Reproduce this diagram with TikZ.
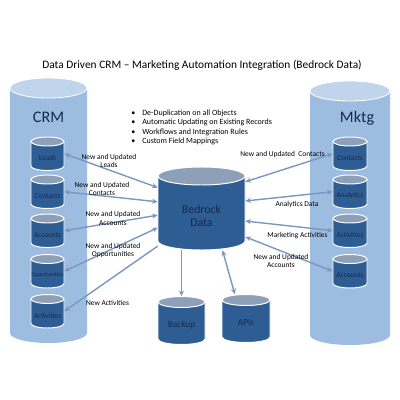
\documentclass[tikz,border=0pt]{standalone}
\usepackage{fontspec}
\setmainfont{Carlito}
\usepackage{tikz}
\usetikzlibrary{arrows.meta, calc, positioning}

\definecolor{crmblue}{RGB}{157,189,224}
\definecolor{crmcap}{RGB}{192,213,236}
\definecolor{dbblue}{RGB}{46,93,148}
\definecolor{dbcap}{RGB}{142,160,184}
\definecolor{dbtext}{RGB}{20,42,76}
\definecolor{linkblue}{RGB}{122,151,194}

% cylinder: name, x, cap y, bottom y, half width, cap radius, look, text y, text
\newcommand{\dbcyl}[9]{%
  \fill[#7body] (#2-#5,#3) -- (#2-#5,#4) arc[start angle=180,end angle=0,x radius=#5,y radius=#6] -- (#2+#5,#3) -- cycle;
  \draw[#7cap] (#2,#3) ellipse[x radius=#5,y radius=#6];
  \node[inner sep=0pt,minimum width=#5*0.05cm,minimum height=((#4)-(#3)+2*#6)*0.025cm] (#1) at (#2,{((#3)+(#4))/2}) {};
  \node[#7text] (#1-txt) at (#2,#8) {#9};
}

\tikzset{
  bigbody/.style={fill=crmblue},
  bigcap/.style={draw=white,line width=0.6pt,fill=crmcap},
  bigtext/.style={font=\fontsize{11.5}{13}\selectfont,text=dbtext},
  smallbody/.style={fill=dbblue,draw=white,line width=0.7pt},
  smallcap/.style={draw=white,line width=0.7pt,fill=dbcap},
  smalltext/.style={font=\fontsize{5.2}{6}\selectfont,text=dbtext},
  hubbody/.style={smallbody},
  hubcap/.style={smallcap},
  hubtext/.style={font=\fontsize{8.4}{9.6}\selectfont,text=dbtext,align=center},
  midbody/.style={smallbody},
  midcap/.style={smallcap},
  midtext/.style={font=\fontsize{6.6}{7.5}\selectfont,text=dbtext},
  lbl/.style={font=\fontsize{5.3}{5.8}\selectfont,align=center,inner sep=0pt},
  link/.style={draw=linkblue,line width=1pt,{Stealth[length=4pt,width=3.6pt]}-{Stealth[length=4pt,width=3.6pt]}},
  oneway/.style={link,-{Stealth[length=4pt,width=3.6pt]}}
}

\begin{document}
\begin{tikzpicture}[x=0.025cm,y=-0.025cm]
  \useasboundingbox (0,0) rectangle (400,400);

  % title and bullet list
  \node[font=\fontsize{8.1}{9}\selectfont] (title) at (202,65) {Data Driven CRM -- Marketing Automation Integration (Bedrock Data)};
  \node[font=\fontsize{5.7}{6.8}\selectfont,align=left,anchor=west,inner sep=0pt] (features) at (131,127.5)
    {\textbullet\hspace{5pt}De-Duplication on all Objects\\
     \textbullet\hspace{5pt}Automatic Updating on Existing Records\\
     \textbullet\hspace{5pt}Workflows and Integration Rules\\
     \textbullet\hspace{5pt}Custom Field Mappings};

  % the two big systems
  \dbcyl{crm}{48.5}{88}{333}{38.5}{10}{big}{117}{CRM}
  \dbcyl{mktg}{350}{91}{335}{40}{10}{big}{118}{\hspace{10pt}Mktg}

  % objects on each side
  \foreach \nm/\lbl/\y in {leads/Leads/141.5, contacts/Contacts/179.5, accounts/Accounts/218.5,
                           opps/{\fontsize{4}{5}\selectfont Opportunities}/259, activities/Activities/299}
    \dbcyl{\nm}{47.5}{\y}{\y+24.5}{16.5}{4.5}{small}{\y+16.5}{\lbl};
  \foreach \nm/\lbl/\y in {mcontacts/Contacts/141.5, analytics/Analytics/179.5,
                           mactivities/Activities/218.5, maccounts/Accounts/259}
    \dbcyl{\nm}{350}{\y}{\y+24.5}{17}{4.5}{small}{\y+16.5}{\lbl};

  % hub and its stores
  \dbcyl{bedrock}{201.5}{176}{241}{43.5}{9}{hub}{216}{Bedrock\\Data}
  \dbcyl{backup}{181.5}{302}{339}{23.5}{5.5}{mid}{325}{Backup}
  \dbcyl{apis}{246}{300}{337}{24}{5.5}{mid}{323}{APIs}

  % CRM side
  \draw[link] (leads.east) -- ($(bedrock.north west)!0.25!(bedrock.south west)$);
  \draw[link] (contacts.east) -- ($(bedrock.north west)!0.42!(bedrock.south west)$);
  \draw[link] (accounts.east) -- ($(bedrock.north west)!0.58!(bedrock.south west)$);
  \draw[link] (opps.east) -- ($(bedrock.north west)!0.73!(bedrock.south west)$);
  \draw[oneway] ($(bedrock.north west)!0.95!(bedrock.south west)$) -- (activities.east);

  % Mktg side
  \draw[link] ($(bedrock.north east)!0.18!(bedrock.south east)$) -- (mcontacts.west);
  \draw[link] ($(bedrock.north east)!0.41!(bedrock.south east)$) -- (analytics.west);
  \draw[link] ($(bedrock.north east)!0.65!(bedrock.south east)$) -- (mactivities.west);
  \draw[link] ($(bedrock.north east)!0.84!(bedrock.south east)$) -- (maccounts.west);

  % down to the stores
  \draw[oneway] (bedrock.south -| backup.north) -- (backup.north);
  \draw[link] ($(bedrock.south west)!0.74!(bedrock.south east)$) -- ($(apis.north west)!0.27!(apis.north east)$);

  % connector labels
  \node[lbl] (lleads) at (109,161) {New and Updated\\Leads};
  \node[lbl] (lcontacts) at (102,189) {New and Updated\\Contacts};
  \node[lbl] (laccounts) at (113,218.5) {New and Updated\\Accounts};
  \node[lbl] (lopps) at (113,250.5) {New and Updated\\Opportunities};
  \node[lbl] (lactivities) at (107.5,303) {New Activities};
  \node[lbl] (rcontacts) at (282.5,155) {New and Updated\ \ Contacts};
  \node[lbl] (ranalytics) at (297,205) {Analytics Data};
  \node[lbl] (rmarketing) at (297.5,236) {Marketing Activities};
  \node[lbl] (raccounts) at (281,261) {New and Updated\\Accounts};
\end{tikzpicture}
\end{document}
